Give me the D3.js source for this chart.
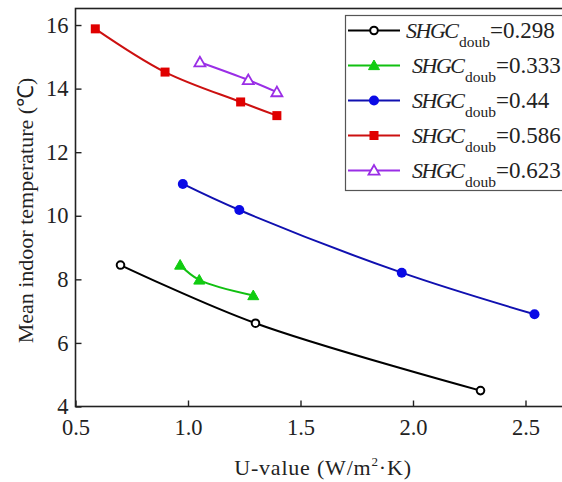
<!DOCTYPE html>
<html>
<head>
<meta charset="utf-8">
<script src="https://cdn.jsdelivr.net/npm/d3@7"></script>
<style>
  body { margin: 0; background: #fff; }
  svg { display: block; }
</style>
</head>
<body>
<svg id="chart" width="562" height="482" font-family="Liberation Serif"></svg>
<script>
// data
const seriesNames = ["0.298", "0.333", "0.44", "0.586", "0.623"];
const uValues = [
    [0.70, 1.30, 2.30],
    [0.965, 1.05, 1.29],
    [0.977, 1.228, 1.95, 2.54],
    [0.588, 0.898, 1.234, 1.395],
    [1.053, 1.268, 1.395]
];
const temps = [
    [8.45, 6.62, 4.50],
    [8.45, 7.98, 7.49],
    [11.0, 10.18, 8.21, 6.90],
    [15.88, 14.52, 13.58, 13.15],
    [14.83, 14.27, 13.89]
];
const colors = ["#000000", "#11cc11", "#0a0ae6", "#e00000", "#9a2ee6"];
const lineColors = ["#000000", "#11c011", "#1010b0", "#cc1010", "#9a2ee6"];
const markers = ["circleOpen", "triangle", "circle", "square", "triangleOpen"];
const xTicks = [0.5, 1.0, 1.5, 2.0, 2.5];
const yTicks = [4, 6, 8, 10, 12, 14, 16];

const FONT = "Liberation Serif";
const svg = d3.select("#chart");
const margin = {left: 75.5, top: 8.5, right: 570.5, bottom: 406.5};

const x = d3.scaleLinear().domain([0.5, 2.7]).range([margin.left, margin.right]);
const y = d3.scaleLinear().domain([4, 16.52]).range([margin.bottom, margin.top]);

// frame
svg.append("rect")
    .attr("x", margin.left).attr("y", margin.top)
    .attr("width", margin.right - margin.left).attr("height", margin.bottom - margin.top)
    .attr("fill", "none").attr("stroke", "#222").attr("stroke-width", 1.6);

// axes with inward ticks
const xAxis = svg.append("g").attr("transform", `translate(0,${margin.bottom})`)
    .call(d3.axisBottom(x).tickValues(xTicks).tickFormat(d3.format(".1f")).tickSizeInner(-6).tickSizeOuter(0).tickPadding(13));
const yAxis = svg.append("g").attr("transform", `translate(${margin.left},0)`)
    .call(d3.axisLeft(y).tickValues(yTicks).tickFormat(d3.format("d")).tickSizeInner(-6).tickSizeOuter(0).tickPadding(7));
[xAxis, yAxis].forEach(a => {
    a.attr("font-family", FONT);
    a.select(".domain").remove();
    a.selectAll("line").attr("stroke", "#222").attr("stroke-width", 1.4);
    a.selectAll("text").attr("font-size", 22.5).attr("fill", "#222").attr("font-family", FONT);
});

// titles
svg.append("text").attr("x", (margin.left + margin.right) / 2).attr("y", 475)
    .attr("text-anchor", "middle").attr("font-size", 22).attr("letter-spacing", 0.8)
    .attr("fill", "#222").attr("font-family", FONT)
    .html('U-value (W/m<tspan dy="-9" font-size="13">2</tspan><tspan dy="9">·K)</tspan>');
svg.append("text")
    .attr("transform", `translate(33,${(margin.top + margin.bottom) / 2 + 3}) rotate(-90)`)
    .attr("text-anchor", "middle").attr("font-size", 22).attr("fill", "#222").attr("font-family", FONT)
    .text("Mean indoor temperature (℃)");

function drawMarker(g, type, cx, cy, color) {
    if (type === "circleOpen") {
        g.append("circle").attr("cx", cx).attr("cy", cy).attr("r", 3.8)
            .attr("fill", "#fff").attr("stroke", color).attr("stroke-width", 2);
    } else if (type === "circle") {
        g.append("circle").attr("cx", cx).attr("cy", cy).attr("r", 5).attr("fill", color);
    } else if (type === "square") {
        g.append("rect").attr("x", cx - 4.5).attr("y", cy - 4.5).attr("width", 9).attr("height", 9).attr("fill", color);
    } else if (type === "triangle" || type === "triangleOpen") {
        const s = 5.5;
        const pts = [[cx, cy - s], [cx - s, cy + s * 0.75], [cx + s, cy + s * 0.75]];
        const open = type === "triangleOpen";
        g.append("polygon").attr("points", pts.map(p => p.join(",")).join(" "))
            .attr("fill", open ? "#fff" : color)
            .attr("stroke", color).attr("stroke-width", open ? 1.8 : 1);
    }
}

const line = d3.line().x(d => x(d[0])).y(d => y(d[1])).curve(d3.curveCatmullRom.alpha(0.5));

seriesNames.forEach((name, i) => {
    const pts = uValues[i].map((u, j) => [u, temps[i][j]]);
    const g = svg.append("g");
    g.append("path").datum(pts).attr("d", line)
        .attr("fill", "none").attr("stroke", lineColors[i]).attr("stroke-width", 2);
    pts.forEach(p => drawMarker(g, markers[i], x(p[0]), y(p[1]), colors[i]));
});

// legend
const lg = svg.append("g");
lg.append("rect").attr("x", 345.5).attr("y", 15.5).attr("width", 230).attr("height", 175)
    .attr("fill", "#fff").attr("stroke", "#555").attr("stroke-width", 1.2);
seriesNames.forEach((name, i) => {
    const ly = 30.5 + i * 35;
    lg.append("line").attr("x1", 348).attr("x2", 400).attr("y1", ly).attr("y2", ly)
        .attr("stroke", lineColors[i]).attr("stroke-width", 2);
    drawMarker(lg, markers[i], 374, ly, colors[i]);
    const t = lg.append("text").attr("x", i === 0 ? 406 : 412).attr("y", ly + 7.5)
        .attr("font-size", 23).attr("fill", "#222").attr("font-family", FONT);
    t.append("tspan").attr("font-style", "italic").attr("font-size", 22).attr("letter-spacing", -1.5).text("SHGC");
    t.append("tspan").attr("font-size", 15.5).attr("dy", 9).attr("dx", 1.5).text("doub");
    t.append("tspan").attr("dy", -9).text("=" + name);
});
</script>
</body>
</html>
